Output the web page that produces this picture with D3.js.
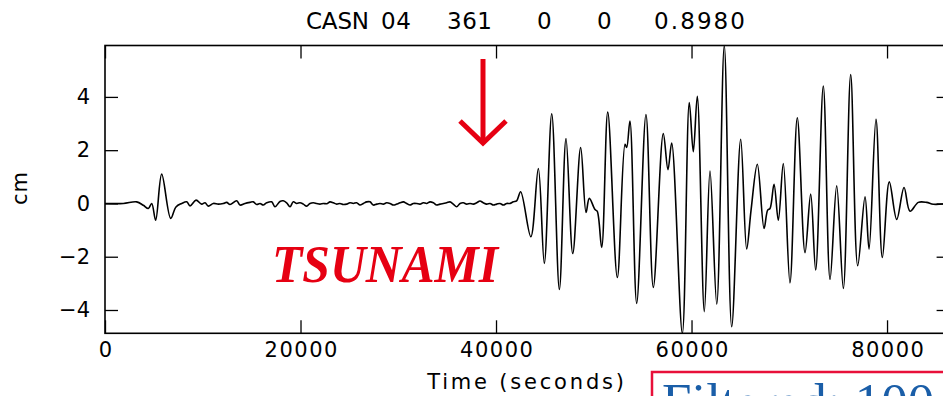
<!DOCTYPE html>
<html>
<head>
<meta charset="utf-8">
<script src="https://cdn.jsdelivr.net/npm/d3@7"></script>
<style>
  html, body { margin: 0; padding: 0; background: #fff; }
  svg { display: block; }
  text { font-family: "DejaVu Sans", sans-serif; }
</style>
</head>
<body>
<svg id="chart" width="943" height="396"></svg>
<script>
// ---------- DATA ----------
const titleTokens = ["CASN", "04", "361", "0", "0", "0.8980"];
const xTickValues = [0, 20000, 40000, 60000, 80000];
const yTickValues = [-4, -2, 0, 2, 4];
const xLabel = "Time (seconds)";
const yLabel = "cm";
const annotation = "TSUNAMI";
const boxLabel = "Filtered: 100";

// quiet start and the first (seismic) arrival
const quietTime = [0, 1870, 3240, 3920, 4430, 4780, 5180, 5800, 6720, 7260, 7850];
const quietCm   = [0, 0.0, 0.06, -0.07, -0.19, 0.0, -0.63, 1.1, -0.56, -0.13, 0.0];

// low-level background noise before the tsunami
const noiseTime = [8360, 8700, 9310, 9890, 10230, 10570, 11080, 11590, 12100, 12450, 12790, 13470, 13810,
  14320, 14830, 15170, 15520, 15860, 16190, 16540, 17050, 17390, 17900, 18240, 18580, 18930, 19260,
  19610, 19950, 20290, 20630, 20970, 21310, 21650, 21990, 22340, 22680, 23020, 23360, 23700, 24040,
  24380, 24720, 25060, 25400, 25740, 26090, 26430, 26770, 27110, 27450, 27790, 28130, 28470, 28810,
  29160, 29500, 29840, 30180, 30520, 30860, 31200, 31540, 31880, 32220, 32560, 32900, 33250, 33590,
  33930, 34270, 34610, 34950, 35290, 35630, 35970, 36320, 36660, 37000, 37340, 37680, 38020, 38360,
  38700, 39040, 39390, 39730, 40070, 40410, 40750, 41090, 41430, 41770, 42110];
const noiseCm = [0.06, -0.09, 0.125, -0.025, 0.025, -0.1, 0, -0.025, 0, 0.04, -0.04, 0.1, -0.06,
  0, 0.04, 0.06, -0.04, 0, -0.06, 0.025, 0.06, -0.125, 0.075, 0.1, 0.025, -0.125, 0.06,
  0, 0.025, -0.025, -0.1, 0, 0.025, 0, -0.025, 0, -0.01, 0.06, 0.025, -0.025, 0,
  -0.04, -0.025, 0.025, 0, 0.025, -0.06, 0, 0.06, 0.06, -0.06, -0.025, 0, -0.025, 0.025,
  0, -0.06, -0.025, 0.025, 0.06, 0, -0.06, 0, 0, -0.025, 0.025, 0, 0.06, 0.025,
  -0.06, -0.025, 0, 0.025, 0.06, -0.025, -0.125, 0, 0.025, -0.025, 0, -0.025, 0.025, 0.09,
  0.025, -0.025, 0, -0.06, -0.025, 0, -0.06, 0, 0, 0.06, 0.1];

// tsunami wave train
const tsunamiTime = [42520, 43560, 44330, 44940, 45700, 46480, 47160, 47850, 48660, 49210, 49540, 50130,
  50360, 50810, 51430, 52410, 53200, 53370, 53700, 54390, 55340, 56090, 57110, 57590, 57970, 59060,
  59770, 60180, 60590, 61310, 61890, 62580, 63350, 64110, 65030, 65640, 66090, 66730, 67420, 67790,
  68030, 68440, 68880, 69390, 70070, 70820, 71610, 72190, 72700, 73480, 74170, 74850, 75530, 76280,
  77000, 77750, 78160, 78870, 79520, 80230, 80990, 81740, 82350, 83200, 84060, 84730, 86340];
const tsunamiCm = [0.44, -1.25, 1.31, -2.25, 3.37, -3.23, 2.44, -1.88, 2.1, -0.34, 0.19, -0.23,
  -0.3, -1.65, 3.43, -2.78, 2.22, 2.1, 3.09, -3.75, 3.34, -3.15, 2.62, 1.27, 2.27, -4.875,
  3.79, 1.94, 4.02, -4.06, 1.22, -3.78, 5.93, -4.63, 2.41, -1.71, -0.25, 1.47, -0.94, -0.25,
  -0.19, 0.72, -0.63, 1.5, -2.98, 3.22, -1.85, 0.35, -2.5, 4.41, -2.85, 0.66, -3.19, 4.84,
  -2.34, 0.25, -1.71, 3.16, -2.03, 0.81, -0.6, 0.6, -0.29, 0.04, 0.04, -0.03, 0];

const xDomain = [0, 86400];
const yDomain = [-4.875, 5.93];

// ---------- LAYOUT ----------
const svg = d3.select("#chart");
const mLeft = 105, mRight = 949.6, mTop = 45.5, mBottom = 333.3;
const x = d3.scaleLinear().domain(xDomain).range([mLeft, mRight]);
const y = d3.scaleLinear().domain(yDomain).range([mBottom, mTop]);

const times = quietTime.concat(noiseTime, tsunamiTime);
const values = quietCm.concat(noiseCm, tsunamiCm);
const data = times.map((t, i) => ({ t, v: values[i] }));

svg.append("defs").append("clipPath").attr("id", "plotclip")
  .append("rect").attr("x", mLeft).attr("y", mTop - 1)
  .attr("width", mRight - mLeft).attr("height", mBottom - mTop + 2);

// waveform
const line = d3.line().x(d => x(d.t)).y(d => y(d.v)).curve(d3.curveCatmullRom.alpha(0.5));
svg.append("path").datum(data)
  .attr("clip-path", "url(#plotclip)")
  .attr("fill", "none").attr("stroke", "#000").attr("stroke-width", 1.6)
  .attr("stroke-linejoin", "round")
  .attr("d", line);

// axes
const tickLen = 13;
const styleAxis = g => {
  g.select(".domain").remove();
  g.selectAll(".tick line").attr("stroke", "#000").attr("stroke-width", 1.3);
  g.selectAll(".tick text").attr("fill", "#000")
    .style("font-size", "21px").style("font-family", "DejaVu Sans, sans-serif");
};
svg.append("g").attr("transform", `translate(0,${mBottom})`)
  .call(d3.axisBottom(x).tickValues(xTickValues).tickFormat(d3.format("d"))
    .tickSizeInner(-tickLen).tickSizeOuter(0).tickPadding(9))
  .call(styleAxis)
  .call(g => g.selectAll(".tick text").attr("letter-spacing", "1.5px").attr("dx", "0.75"));
svg.append("g").attr("transform", `translate(0,${mTop})`)
  .call(d3.axisTop(x).tickValues(xTickValues).tickFormat("").tickSizeInner(-tickLen).tickSizeOuter(0))
  .call(styleAxis);
svg.append("g").attr("transform", `translate(${mLeft},0)`)
  .call(d3.axisLeft(y).tickValues(yTickValues).tickFormat(d3.format("d"))
    .tickSizeInner(-tickLen).tickSizeOuter(0).tickPadding(15))
  .call(styleAxis);
svg.append("g").attr("transform", `translate(${mRight},0)`)
  .call(d3.axisRight(y).tickValues(yTickValues).tickFormat("").tickSizeInner(-tickLen).tickSizeOuter(0))
  .call(styleAxis);

// frame
svg.append("rect").attr("x", mLeft).attr("y", mTop)
  .attr("width", mRight - mLeft).attr("height", mBottom - mTop)
  .attr("fill", "none").attr("stroke", "#000").attr("stroke-width", 1.6);

// title
const titleX = [306, 381, 447, 537, 597, 654];
const titleW = [63, 30, 45, 15, 15, 91];
const title = svg.append("text").attr("y", 29).style("font-size", "23px");
title.selectAll("tspan").data(titleTokens).join("tspan")
  .attr("x", (d, i) => titleX[i])
  .attr("textLength", (d, i) => titleW[i]).attr("lengthAdjust", "spacing")
  .text(d => d);

// axis labels
svg.append("text").attr("x", 527).attr("y", 389).attr("text-anchor", "middle")
  .style("font-size", "21px").attr("letter-spacing", "2.8px").text(xLabel);
svg.append("text").attr("transform", "translate(27,188) rotate(-90)").attr("text-anchor", "middle")
  .style("font-size", "21px").attr("letter-spacing", "1px").text(yLabel);

// red arrow
const red = "#e60012";
const arrow = svg.append("g").attr("stroke", red).attr("stroke-width", 5).attr("fill", "none");
arrow.append("line").attr("x1", 483).attr("y1", 59).attr("x2", 483).attr("y2", 143);
arrow.append("polyline").attr("points", "460,121 483,143 506,121");

// TSUNAMI annotation
svg.append("text").attr("x", 272).attr("y", 282)
  .attr("textLength", 226).attr("lengthAdjust", "spacingAndGlyphs")
  .style("font-family", "Liberation Serif, 'Times New Roman', serif")
  .style("font-size", "52px").style("font-weight", "bold").style("font-style", "italic")
  .attr("fill", red).text(annotation);

// partially visible box at the bottom right (cut by the picture edge, as in the reference)
svg.append("rect").attr("x", 652).attr("y", 372).attr("width", 320).attr("height", 80)
  .attr("fill", "#fff").attr("stroke", "#e8103a").attr("stroke-width", 2.5);
svg.append("text").attr("x", 662).attr("y", 420)
  .style("font-family", "Liberation Serif, 'Times New Roman', serif")
  .style("font-size", "53px").attr("fill", "#1a5ea8").text(boxLabel);
</script>
</body>
</html>
